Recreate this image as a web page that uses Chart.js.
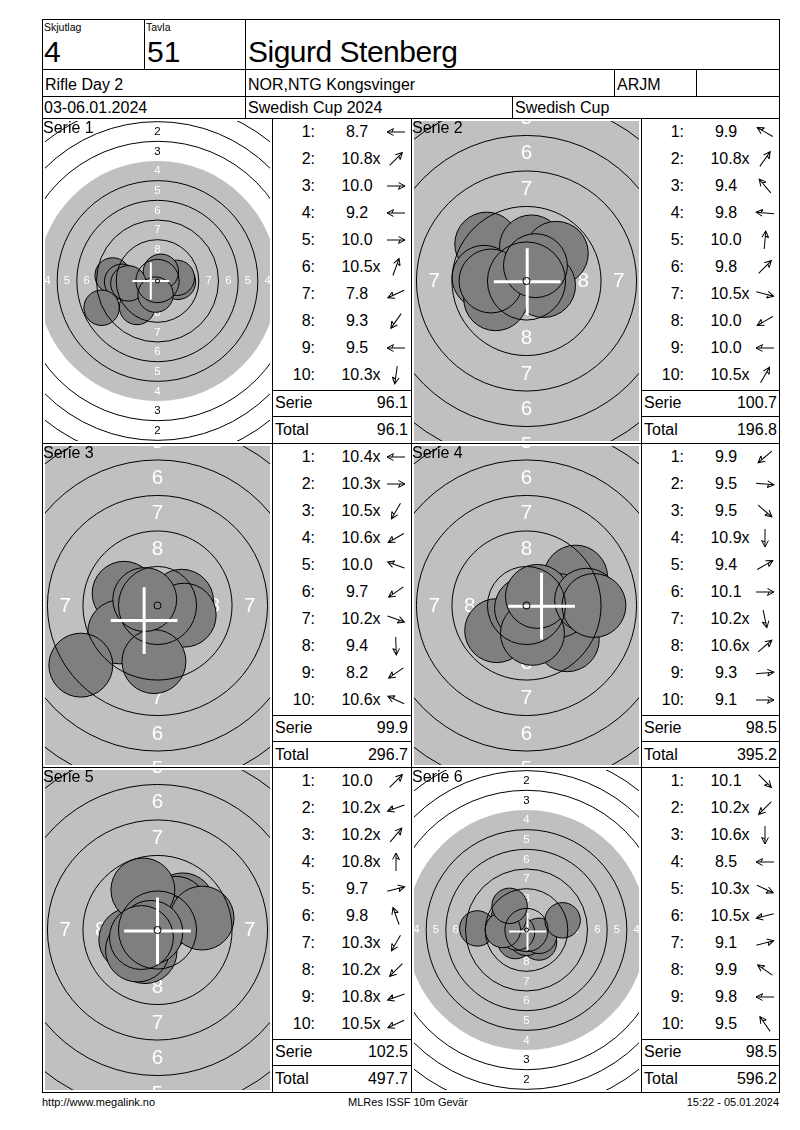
<!DOCTYPE html>
<html>
<head>
<meta charset="utf-8">
<script src="https://cdn.jsdelivr.net/npm/chart.js@4.4.1/dist/chart.umd.min.js"></script>
<style>
  body { margin: 0; background: #fff; }
  #page { position: relative; width: 800px; height: 1130px; overflow: hidden;
          font-family: "Liberation Sans", Arial, sans-serif; color: #000; }
  .ln { position: absolute; background: #000; }
  .t { position: absolute; white-space: nowrap; line-height: 1.15; }
  .t .x { position: absolute; left: 100%; top: 0; }
  canvas { position: absolute; }
  svg.arr { position: absolute; overflow: visible; }
</style>
</head>
<body>
<div id="page"></div>
<script>
// ---- header texts
const squad = '4';
const lane = '51';
const shooter = 'Sigurd Stenberg';
const eventName = 'Rifle Day 2';
const club = 'NOR,NTG Kongsvinger';
const shooterClass = 'ARJM';
const dates = '03-06.01.2024';
const competition = 'Swedish Cup 2024';
const cupName = 'Swedish Cup';
const footerLeft = 'http://www.megalink.no';
const footerMid = 'MLRes ISSF 10m Gevär';
const footerRight = '15:22 - 05.01.2024';

// ---- series
const serieNames = ['Serie 1', 'Serie 2', 'Serie 3', 'Serie 4', 'Serie 5', 'Serie 6'];
const serieScores = ['96.1', '100.7', '99.9', '98.5', '102.5', '98.5'];
const totalScores = ['96.1', '196.8', '296.7', '395.2', '497.7', '596.2'];

const shotScores = [
  [8.7, 10.8, 10.0, 9.2, 10.0, 10.5, 7.8, 9.3, 9.5, 10.3],
  [9.9, 10.8, 9.4, 9.8, 10.0, 9.8, 10.5, 10.0, 10.0, 10.5],
  [10.4, 10.3, 10.5, 10.6, 10.0, 9.7, 10.2, 9.4, 8.2, 10.6],
  [9.9, 9.5, 9.5, 10.9, 9.4, 10.1, 10.2, 10.6, 9.3, 9.1],
  [10.0, 10.2, 10.2, 10.8, 9.7, 9.8, 10.3, 10.2, 10.8, 10.5],
  [10.1, 10.2, 10.6, 8.5, 10.3, 10.5, 9.1, 9.9, 9.8, 9.5]
];
const innerTens = [
  [0, 1, 0, 0, 0, 1, 0, 0, 0, 1],
  [0, 1, 0, 0, 0, 0, 1, 0, 0, 1],
  [1, 1, 1, 1, 0, 0, 1, 0, 0, 1],
  [0, 0, 0, 1, 0, 0, 1, 1, 0, 0],
  [0, 1, 1, 1, 0, 0, 1, 1, 1, 1],
  [0, 1, 1, 0, 1, 1, 0, 0, 0, 0]
];
// direction arrows, degrees (0 = right, 90 = up)
const shotDirs = [
  [180, 45, 0, 180, 0, 70, 205, 235, 180, 262],
  [150, 55, 130, 175, 85, 45, 345, 210, 180, 60],
  [180, 0, 240, 210, 160, 215, 340, 272, 215, 155],
  [220, 355, 320, 270, 30, 0, 282, 40, 5, 0],
  [45, 200, 50, 90, 15, 110, 240, 225, 200, 205],
  [315, 225, 270, 180, 335, 195, 15, 145, 180, 125]
];
// shot centres in mm from target centre
const shotX = [
  [-5.7, 0.35, 2.6, -4.5, 2.45, 0.43, -7.1, -2.6, -3.7, -0.25],
  [-2.38, 0.29, -2.8, -2.99, 0.35, 2.1, 1.2, -2.17, -2.5, 0.63],
  [-1.5, 1.7, -0.63, -0.87, -2.35, -2.66, 1.88, -0.25, -5.4, -0.9],
  [-2.1, 3.74, 2.87, 0.0, 3.46, 2.25, 0.42, 0.77, 4.23, 4.75],
  [1.77, -1.88, 1.29, 0.0, 3.14, -1.03, -0.88, -1.41, -0.47, -1.13],
  [1.59, -1.41, 0.0, -6.25, 1.59, -1.21, 4.59, -2.25, -3.0, -2.15]
];
const shotY = [
  [0.7, 0.35, -0.1, -0.1, 0.4, 1.17, -3.4, -3.3, -0.3, -1.73],
  [1.38, 0.41, 2.6, 0.26, 2.4, 1.95, -0.32, -1.25, 0.0, 1.08],
  [0.0, 0.3, -1.08, -0.5, 0.86, -1.86, -0.68, -3.95, -4.2, 0.42],
  [-1.77, -0.33, -2.41, -0.2, 2.0, 0.0, -1.96, 0.64, 0.37, 0.0],
  [1.77, -0.68, 1.53, 0.5, 0.84, 2.82, -1.52, -1.41, -0.17, -0.53],
  [-1.59, -1.41, -1.0, 0.2, -0.74, -0.32, 1.23, 1.58, 0.0, 3.07]
];
// white cross (mean point of impact), mm
const mpiX = [-0.85, 0.05, -0.94, 1.06, 0.0, 0.13];
const mpiY = [0.0, -0.05, -1.06, -0.05, -0.07, -0.2];
// display scale of each target, px per mm
const targetZoom = [7.87, 14.2, 14.2, 14.2, 14.2, 7.87];

// ---- ISSF 10m air rifle face
const PELLET_R = 2.25;
const ringR = n => 0.25 + (10 - n) * 2.5;
const GRAY = '#c0c0c0';
const SHOT_FILL = '#7f7f7f';
const FONT = '"Liberation Sans", Arial, sans-serif';

const page = document.getElementById('page');

function hline(x1, x2, y) {
  const d = document.createElement('div');
  d.className = 'ln';
  d.style.cssText = `left:${x1}px;top:${y}px;width:${x2 - x1 + 1}px;height:1px`;
  page.appendChild(d);
}
function vline(x, y1, y2) {
  const d = document.createElement('div');
  d.className = 'ln';
  d.style.cssText = `left:${x}px;top:${y1}px;width:1px;height:${y2 - y1 + 1}px`;
  page.appendChild(d);
}
// cy = vertical centre of the capitals
function txt(x, cy, s, fs, align, extra) {
  const d = document.createElement('div');
  d.className = 't';
  d.textContent = s;
  d.style.fontSize = fs + 'px';
  d.style.top = (cy - 0.56 * fs) + 'px';
  if (align === 'right') d.style.right = (800 - x) + 'px';
  else d.style.left = x + 'px';
  if (align === 'center') d.style.transform = 'translateX(-50%)';
  if (extra) Object.assign(d.style, extra);
  page.appendChild(d);
  return d;
}
function arrow(cx, cy, deg) {
  const NS = 'http://www.w3.org/2000/svg';
  const s = document.createElementNS(NS, 'svg');
  s.setAttribute('class', 'arr');
  s.setAttribute('width', 22);
  s.setAttribute('height', 22);
  s.style.left = (cx - 11) + 'px';
  s.style.top = (cy - 11) + 'px';
  s.style.transform = `rotate(${-deg}deg)`;
  const p = document.createElementNS(NS, 'path');
  p.setAttribute('d', 'M2 11 H20 M13.5 7.6 L20 11 L13.5 14.4 M15 11 L13.5 14.4');
  p.setAttribute('stroke', '#000');
  p.setAttribute('stroke-width', '1');
  p.setAttribute('fill', 'none');
  s.appendChild(p);
  page.appendChild(s);
}

// ---- grid
const rowTops = [118, 443, 767];
const BOTTOM = 1092;
[19, 69, 96, 118, 443, 767, BOTTOM].forEach(y => hline(42, 779, y));
vline(42, 19, BOTTOM); vline(779, 19, BOTTOM);
vline(144, 19, 69); vline(245, 19, 118);
vline(614, 69, 96); vline(696, 69, 96);
vline(512, 96, 118);
[272, 411, 641].forEach(x => vline(x, 118, BOTTOM));
rowTops.forEach(t => {
  hline(272, 411, t + 272); hline(272, 411, t + 298);
  hline(641, 779, t + 272); hline(641, 779, t + 298);
});

// ---- header
txt(44, 27, 'Skjutlag', 10.5);
txt(146, 27, 'Tavla', 10.5);
txt(44, 52, squad, 30);
txt(147, 52, lane, 30);
txt(248, 52, shooter, 30, 'left', { letterSpacing: '-0.5px' });
txt(45, 84.5, eventName, 16);
txt(248, 84.5, club, 16);
txt(617, 84.5, shooterClass, 16);
txt(44, 107.5, dates, 16);
txt(248, 107.5, competition, 16);
txt(515, 107.5, cupName, 16);
txt(42, 1102, footerLeft, 11);
txt(408, 1102, footerMid, 11, 'center');
txt(779, 1102, footerRight, 11, 'right');

// ---- target face plugin
function pxPerMm(chart) {
  const x = chart.scales.x;
  return x.getPixelForValue(1) - x.getPixelForValue(0);
}
const targetFace = {
  id: 'targetFace',
  beforeDatasetsDraw(chart) {
    const { ctx, chartArea: a, scales: { x, y } } = chart;
    const k = pxPerMm(chart);
    const cx = x.getPixelForValue(0), cy = y.getPixelForValue(0);
    ctx.save();
    ctx.beginPath();
    ctx.rect(a.left, a.top, a.right - a.left, a.bottom - a.top);
    ctx.clip();
    ctx.fillStyle = GRAY;
    ctx.beginPath();
    ctx.arc(cx, cy, ringR(4) * k, 0, Math.PI * 2);
    ctx.fill();
    ctx.font = `${(1.45 * k).toFixed(1)}px ${FONT}`;
    ctx.textAlign = 'center';
    ctx.textBaseline = 'middle';
    for (let n = 1; n <= 8; n++) {
      const m = (ringR(n) + ringR(n + 1)) / 2 * k;
      ctx.fillStyle = n >= 4 ? '#ffffff' : '#000000';
      [[0, -m], [0, m], [-m, 0], [m, 0]].forEach(([dx, dy]) =>
        ctx.fillText(String(n), cx + dx, cy + dy + 0.04 * k));
    }
    ctx.restore();
  },
  afterDatasetsDraw(chart, args, opts) {
    const { ctx, chartArea: a, scales: { x, y } } = chart;
    const k = pxPerMm(chart);
    const cx = x.getPixelForValue(0), cy = y.getPixelForValue(0);
    ctx.save();
    ctx.beginPath();
    ctx.rect(a.left, a.top, a.right - a.left, a.bottom - a.top);
    ctx.clip();
    ctx.strokeStyle = '#000';
    ctx.lineWidth = 1;
    [1, 2, 3, 5, 6, 7, 8, 9].forEach(n => {
      ctx.beginPath();
      ctx.arc(cx, cy, ringR(n) * k, 0, Math.PI * 2);
      ctx.stroke();
    });
    // mean point of impact
    const mx = x.getPixelForValue(opts.mx), my = y.getPixelForValue(opts.my);
    const arm = 2.35 * k;
    ctx.strokeStyle = '#fff';
    ctx.lineWidth = k > 10 ? 3 : 2;
    ctx.beginPath();
    ctx.moveTo(mx - arm, my); ctx.lineTo(mx + arm, my);
    ctx.moveTo(mx, my - arm); ctx.lineTo(mx, my + arm);
    ctx.stroke();
    // ten ring
    ctx.strokeStyle = '#000';
    ctx.lineWidth = 1;
    ctx.beginPath();
    ctx.arc(cx, cy, Math.max(2, ringR(10) * k), 0, Math.PI * 2);
    ctx.stroke();
    ctx.restore();
  }
};

// ---- panels
serieNames.forEach((name, p) => {
  const row = Math.floor(p / 2), col = p % 2;
  const top = rowTops[row];
  const next = row < 2 ? rowTops[row + 1] : BOTTOM;
  const tLeft = col ? 412 : 43;
  const sLeft = col ? 641 : 272;
  const W = 229, H = next - top - 1;
  const pad = 2;
  const k = targetZoom[p];

  const cv = document.createElement('canvas');
  cv.width = W; cv.height = H;
  cv.style.left = tLeft + 'px';
  cv.style.top = (top + 1) + 'px';
  cv.style.width = W + 'px';
  cv.style.height = H + 'px';
  page.appendChild(cv);

  const halfW = (W - 2 * pad) / 2 / k;
  const halfH = (H - 2 * pad) / 2 / k;
  new Chart(cv, {
    type: 'scatter',
    data: {
      datasets: [{
        data: shotX[p].map((v, i) => ({ x: v, y: shotY[p][i] })),
        backgroundColor: SHOT_FILL,
        borderColor: '#000',
        borderWidth: 1,
        pointRadius: c => PELLET_R * pxPerMm(c.chart),
        pointHoverRadius: c => PELLET_R * pxPerMm(c.chart)
      }]
    },
    options: {
      responsive: false,
      animation: false,
      devicePixelRatio: 1,
      events: [],
      layout: { padding: pad },
      plugins: {
        legend: { display: false },
        tooltip: { enabled: false },
        targetFace: { mx: mpiX[p], my: mpiY[p] }
      },
      scales: {
        x: { type: 'linear', display: false, min: -halfW, max: halfW },
        y: { type: 'linear', display: false, min: -halfH, max: halfH }
      }
    },
    plugins: [targetFace]
  });

  txt(tLeft, top + 10, name, 16, 'left', { zIndex: 2 });

  // score column
  shotScores[p].forEach((s, i) => {
    const cy = top + 14 + 27 * i;
    txt(sLeft + 43, cy, (i + 1) + ':', 16, 'right');
    const v = txt(sLeft + 85, cy, s.toFixed(1), 16, 'center');
    if (innerTens[p][i]) {
      const xs = document.createElement('span');
      xs.className = 'x';
      xs.textContent = 'x';
      v.appendChild(xs);
    }
    arrow(sLeft + 124, cy, shotDirs[p][i]);
  });
  txt(sLeft + 3, top + 285, 'Serie', 16);
  txt(sLeft + 136, top + 285, serieScores[p], 16, 'right');
  txt(sLeft + 3, top + 311.5, 'Total', 16);
  txt(sLeft + 136, top + 311.5, totalScores[p], 16, 'right');
});
</script>
</body>
</html>
